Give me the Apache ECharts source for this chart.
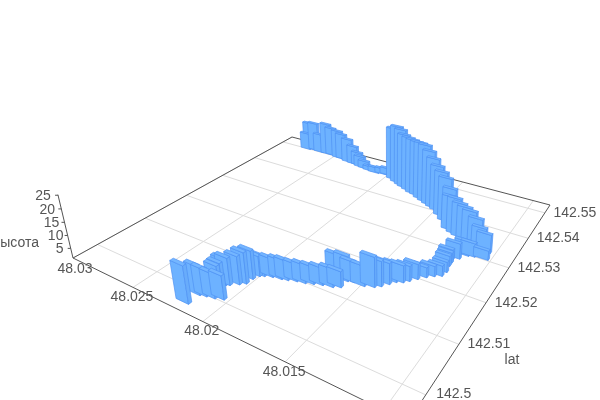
<!DOCTYPE html><html><head><meta charset="utf-8"><style>html,body{margin:0;background:#fff}#c{width:600px;height:400px}</style></head><body><div id="c"></div>
<script src="https://cdn.jsdelivr.net/npm/echarts@6/dist/echarts.min.js"></script>
<script>
// Values
var lonValues=[48.02197,48.02197,48.0216,48.02113,48.02068,48.02149,48.02147,48.02141,48.02124,48.02085,48.02059,48.02056,48.02041,48.02019,48.01976,48.01924,48.0189,48.01844,48.01797,48.01755,48.0171,48.01655,48.01619,48.01658,48.01616,48.01584,48.0152,48.01471,48.01444,48.01417,48.01394,48.01362,48.01339,48.0131,48.01277,48.01245,48.01212,48.01205,48.01215,48.01217,48.01224,48.01195,48.01163,48.0113,48.01056,48.01069,48.01105,48.01136,48.01178,48.01216,48.01254,48.01293,48.01337,48.01353,48.01399,48.01447,48.01496,48.01535,48.01574,48.01615,48.01656,48.01698,48.01735,48.01778,48.01822,48.01855,48.01899,48.01946,48.02021,48.0206,48.02111,48.02159,48.02207,48.02246,48.0228,48.02318,48.02369,48.02436,48.02472,48.02542,48.02585,48.02653,48.02708,48.02753,48.02772];
var latValues=[142.4973,142.4996,142.4999,142.5002,142.5007,142.5021,142.5027,142.5034,142.5037,142.5046,142.5053,142.5067,142.5078,142.5082,142.5087,142.509,142.5093,142.5098,142.5101,142.5106,142.5111,142.5115,142.5121,142.5134,142.5139,142.5142,142.5142,142.5148,142.5155,142.5166,142.5176,142.5181,142.5189,142.52,142.5211,142.522,142.5227,142.524,142.5257,142.5267,142.5275,142.5284,142.5299,142.5302,142.5305,142.5325,142.5329,142.5334,142.5337,142.5341,142.5345,142.535,142.5357,142.5369,142.538,142.5393,142.5406,142.5412,142.5418,142.5424,142.543,142.5438,142.5441,142.5448,142.5454,142.5459,142.5466,142.5474,142.5485,142.5483,142.548,142.5482,142.5485,142.5487,142.5492,142.5492,142.5494,142.55,142.55,142.5505,142.5504,142.5504,142.5507,142.5506,142.5502];
var heightValues=[14.9,11.8,11.1,10.3,10.0,9.8,10.1,10.9,11.3,11.7,12.8,11.8,8.8,8.5,8.1,8.4,8.4,7.7,8.0,7.6,7.6,8.0,7.2,10.7,10.6,8.8,8.7,12.4,10.6,9.1,8.0,7.6,6.9,6.9,5.0,5.1,5.1,5.1,5.1,5.1,5.2,7.1,6.8,6.4,4.8,8.4,9.6,12.0,13.8,14.2,14.6,15.5,14.8,16.5,19.0,19.5,20.0,22.0,24.0,25.4,25.2,24.5,24.6,24.4,24.6,26.0,26.2,24.2,4.1,3.6,3.6,3.1,4.6,6.1,7.1,9.5,12.0,13.0,14.1,14.2,15.7,9.8,14.3,13.9,8.9];
var lonTicks=['48.03','48.025','48.02','48.015'];
var lonGrid=[48.03,48.025,48.02,48.015,48.01];
var latTicks=['142.5','142.51','142.52','142.53','142.54','142.55'];
var heightTicks=['5','10','15','20','25'];

// axis ranges and view of the 3D box
var lonMax=48.03,lonMin=48.0089,latMin=142.4954,latMax=142.5534,hMin=1.2,hMax=25.2;
var corners=[[73,258],[408,422],[550,205],[292,137]],nadir=[390,1590],hK=-0.045/23.8;
var halfLon=0.00044,halfLat=0.00032;

var x0=corners[0][0],y0=corners[0][1],x1=corners[1][0],y1=corners[1][1],x2=corners[2][0],y2=corners[2][1],x3=corners[3][0],y3=corners[3][1];
var dx1=x1-x2,dx2=x3-x2,sx=x0-x1+x2-x3,dy1=y1-y2,dy2=y3-y2,sy=y0-y1+y2-y3,den=dx1*dy2-dx2*dy1;
var g=(sx*dy2-dx2*sy)/den,h=(dx1*sy-sx*dy1)/den;
var a=x1-x0+g*x1,b=x3-x0+h*x3,c=x0,d=y1-y0+g*y1,e=y3-y0+h*y3,f=y0;
function depth(lon,lat){return g*(lonMax-lon)/(lonMax-lonMin)+h*(lat-latMin)/(latMax-latMin)+1;}
function proj(lon,lat,hgt){
  var u=(lonMax-lon)/(lonMax-lonMin),v=(lat-latMin)/(latMax-latMin),t=hK*((hgt||hMin)-hMin);
  var W=g*u+h*v+1+t;
  return [(a*u+b*v+c+nadir[0]*t)/W,(d*u+e*v+f+nadir[1]*t)/W];
}
var barRows=lonValues.map(function(l,i){return [l,latValues[i],heightValues[i]];})
  .sort(function(p,q){return depth(q[0],q[1])-depth(p[0],p[1]);});
var FRONT='#6db2ff',SIDE='#68acfb',TOP='#74b6ff',EDGE='#4f92f3';
function poly(pts,fill){return {type:'polygon',shape:{points:pts},style:{fill:fill,stroke:EDGE,lineWidth:0.7,lineJoin:'round'}};}
function line(p,q,col,w){return {type:'line',shape:{x1:p[0],y1:p[1],x2:q[0],y2:q[1]},style:{stroke:col,lineWidth:w}};}
function label(str,x,y,align){return {type:'text',style:{text:str,x:x,y:y,fill:'#555',fontSize:14,fontFamily:'Liberation Sans, Arial, sans-serif',align:align||'center',verticalAlign:'middle'}};}

function renderBar(params,api){
  var lon=api.value(0),lat=api.value(1),hgt=api.value(2);
  var l0=lon+halfLon,l1=lon-halfLon,a0=lat-halfLat,a1=lat+halfLat;
  var tA=proj(l0,a0,hgt),tB=proj(l1,a0,hgt),tC=proj(l1,a1,hgt),tD=proj(l0,a1,hgt);
  var bA=proj(l0,a0),bB=proj(l1,a0),bC=proj(l1,a1);
  return {type:'group',children:[
    poly([bA,bB,tB,tA],FRONT),
    poly([bB,bC,tC,tB],SIDE),
    poly([tA,tB,tC,tD],TOP)
  ]};
}
function renderFrame(){
  var ch=[];
  lonGrid.forEach(function(v){ch.push(line(proj(v,latMin),proj(v,latMax),'#dcdcdc',1));});
  latTicks.forEach(function(s){var v=+s;ch.push(line(proj(lonMin,v),proj(lonMax,v),'#dcdcdc',1));});
  var L=proj(lonMax,latMin),F=proj(lonMin,latMin),R=proj(lonMin,latMax),B=proj(lonMax,latMax);
  ch.push(line(L,B,'#555',1),line(B,R,'#555',1),line(R,F,'#555',1),line(F,L,'#555',1));
  ch.push(line(L,proj(lonMax,latMin,hMax),'#555',1));
  heightTicks.forEach(function(s){var p=proj(lonMax,latMin,+s);ch.push(line(p,[p[0]-3,p[1]],'#555',1));
    ch.push(label(s,p[0]-10-(+s)*0.2,p[1]+1,'center'));});
  lonTicks.forEach(function(s,i){var p=proj(+s,latMin);ch.push(label(s,p[0]-1+(i?0:3),p[1]+10+(i?0:1)));});
  latTicks.forEach(function(s,i){var p=proj(lonMin,+s);ch.push(label(s,p[0]+(i?30:28),p[1]+(i?0:-1)));});
  ch.push(label('высота',39,243,'right'));
  ch.push(label('lat',512,360));
  return {type:'group',children:ch};
}
var chart=echarts.init(document.getElementById('c'));
chart.setOption({animation:false,backgroundColor:'#fff',series:[
  {type:'custom',coordinateSystem:'none',silent:true,data:[0],renderItem:renderFrame,z:1},
  {type:'custom',coordinateSystem:'none',silent:true,data:barRows,dimensions:['lon','lat','height'],encode:{},renderItem:renderBar,z:2}
]});
</script></body></html>
